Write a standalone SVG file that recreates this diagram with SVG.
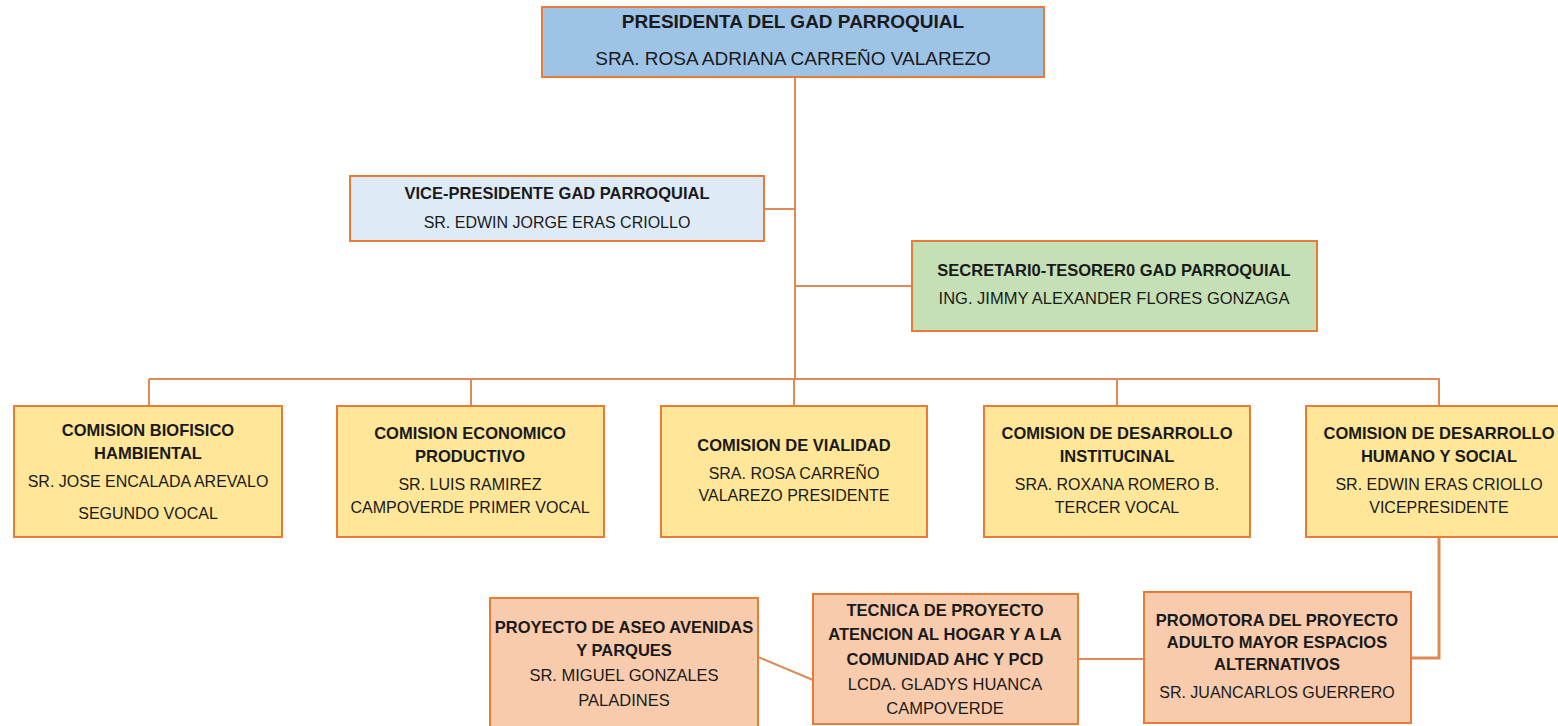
<svg xmlns="http://www.w3.org/2000/svg" width="1558" height="726" viewBox="0 0 1558 726">
<style>
.box{stroke:#E97B38;stroke-width:2}
.blue{fill:#9DC3E6}
.lblue{fill:#DEEBF7}
.green{fill:#C5E0B4}
.yellow{fill:#FFE699}
.peach{fill:#F8CBAD}
text{font-family:"Liberation Sans",Arial,sans-serif;fill:#1a1a1a;text-anchor:middle}
.b{font-weight:bold}
.t{font-size:19px}
.s{font-size:16px}
.sb{font-size:16.5px}
.conn{stroke:#DE8A55;stroke-width:2;fill:none}
</style>
<rect width="1558" height="726" fill="#ffffff"/>
<g id="connectors">
<line class="conn" x1="795" y1="77" x2="795" y2="380"/>
<line class="conn" x1="764" y1="209" x2="795" y2="209"/>
<line class="conn" x1="795" y1="286" x2="912" y2="286"/>
<line class="conn" x1="149" y1="379" x2="1440" y2="379"/>
<line class="conn" x1="149" y1="379" x2="149" y2="406"/>
<line class="conn" x1="471" y1="379" x2="471" y2="406"/>
<line class="conn" x1="794" y1="379" x2="794" y2="406"/>
<line class="conn" x1="1117" y1="379" x2="1117" y2="406"/>
<line class="conn" x1="1439" y1="379" x2="1439" y2="406"/>
<polyline class="conn" points="1439,537 1439,658 1411,658" style="stroke-width:3"/>
<line class="conn" x1="1078" y1="659" x2="1144" y2="659"/>
<line class="conn" x1="758" y1="657" x2="813" y2="680"/>
</g>
<g id="presidenta">
<rect class="box blue" x="542" y="7" width="502" height="70"/>
<text class="b t" x="793" y="28">PRESIDENTA DEL GAD PARROQUIAL</text>
<text class="t" x="793" y="65">SRA. ROSA ADRIANA CARREÑO VALAREZO</text>
</g>
<g id="vicepresidente">
<rect class="box lblue" x="350" y="176" width="414" height="65"/>
<text class="b sb" x="557" y="199">VICE-PRESIDENTE GAD PARROQUIAL</text>
<text class="s" x="557" y="228">SR. EDWIN JORGE ERAS CRIOLLO</text>
</g>
<g id="secretario">
<rect class="box green" x="912" y="241" width="405" height="90"/>
<text class="b sb" x="1114" y="276">SECRETARI0-TESORER0 GAD PARROQUIAL</text>
<text class="sb" x="1114" y="304">ING. JIMMY ALEXANDER FLORES GONZAGA</text>
</g>
<g id="comision1">
<rect class="box yellow" x="14" y="406" width="268" height="131"/>
<text class="b sb" x="148" y="436">COMISION BIOFISICO</text>
<text class="b sb" x="148" y="459">HAMBIENTAL</text>
<text class="s" x="148" y="487">SR. JOSE ENCALADA AREVALO</text>
<text class="s" x="148" y="519">SEGUNDO VOCAL</text>
</g>
<g id="comision2">
<rect class="box yellow" x="337" y="406" width="267" height="131"/>
<text class="b sb" x="470" y="439">COMISION ECONOMICO</text>
<text class="b sb" x="470" y="462">PRODUCTIVO</text>
<text class="s" x="470" y="490">SR. LUIS RAMIREZ</text>
<text class="s" x="470" y="513">CAMPOVERDE PRIMER VOCAL</text>
</g>
<g id="comision3">
<rect class="box yellow" x="661" y="406" width="266" height="131"/>
<text class="b sb" x="794" y="451">COMISION DE VIALIDAD</text>
<text class="s" x="794" y="479">SRA. ROSA CARREÑO</text>
<text class="s" x="794" y="501">VALAREZO PRESIDENTE</text>
</g>
<g id="comision4">
<rect class="box yellow" x="984" y="406" width="266" height="131"/>
<text class="b sb" x="1117" y="439">COMISION DE DESARROLLO</text>
<text class="b sb" x="1117" y="462">INSTITUCINAL</text>
<text class="s" x="1117" y="490">SRA. ROXANA ROMERO B.</text>
<text class="s" x="1117" y="513">TERCER VOCAL</text>
</g>
<g id="comision5">
<rect class="box yellow" x="1306" y="406" width="266" height="131"/>
<text class="b sb" x="1439" y="439">COMISION DE DESARROLLO</text>
<text class="b sb" x="1439" y="462">HUMANO Y SOCIAL</text>
<text class="s" x="1439" y="490">SR. EDWIN ERAS CRIOLLO</text>
<text class="s" x="1439" y="513">VICEPRESIDENTE</text>
</g>
<g id="proyecto-aseo">
<rect class="box peach" x="490" y="598" width="268" height="135"/>
<text class="b sb" x="624" y="633">PROYECTO DE ASEO AVENIDAS</text>
<text class="b sb" x="624" y="656">Y PARQUES</text>
<text class="sb" x="624" y="681">SR. MIGUEL GONZALES</text>
<text class="sb" x="624" y="706">PALADINES</text>
</g>
<g id="tecnica">
<rect class="box peach" x="813" y="594" width="265" height="130"/>
<text class="b sb" x="945" y="616">TECNICA DE PROYECTO</text>
<text class="b sb" x="945" y="640">ATENCION AL HOGAR Y A LA</text>
<text class="b sb" x="945" y="665">COMUNIDAD AHC Y PCD</text>
<text class="sb" x="945" y="690">LCDA. GLADYS HUANCA</text>
<text class="sb" x="945" y="714">CAMPOVERDE</text>
</g>
<g id="promotora">
<rect class="box peach" x="1144" y="592" width="267" height="131"/>
<text class="b sb" x="1277" y="626">PROMOTORA DEL PROYECTO</text>
<text class="b sb" x="1277" y="648">ADULTO MAYOR ESPACIOS</text>
<text class="b sb" x="1277" y="670">ALTERNATIVOS</text>
<text class="s" x="1277" y="698">SR. JUANCARLOS GUERRERO</text>
</g>
</svg>
